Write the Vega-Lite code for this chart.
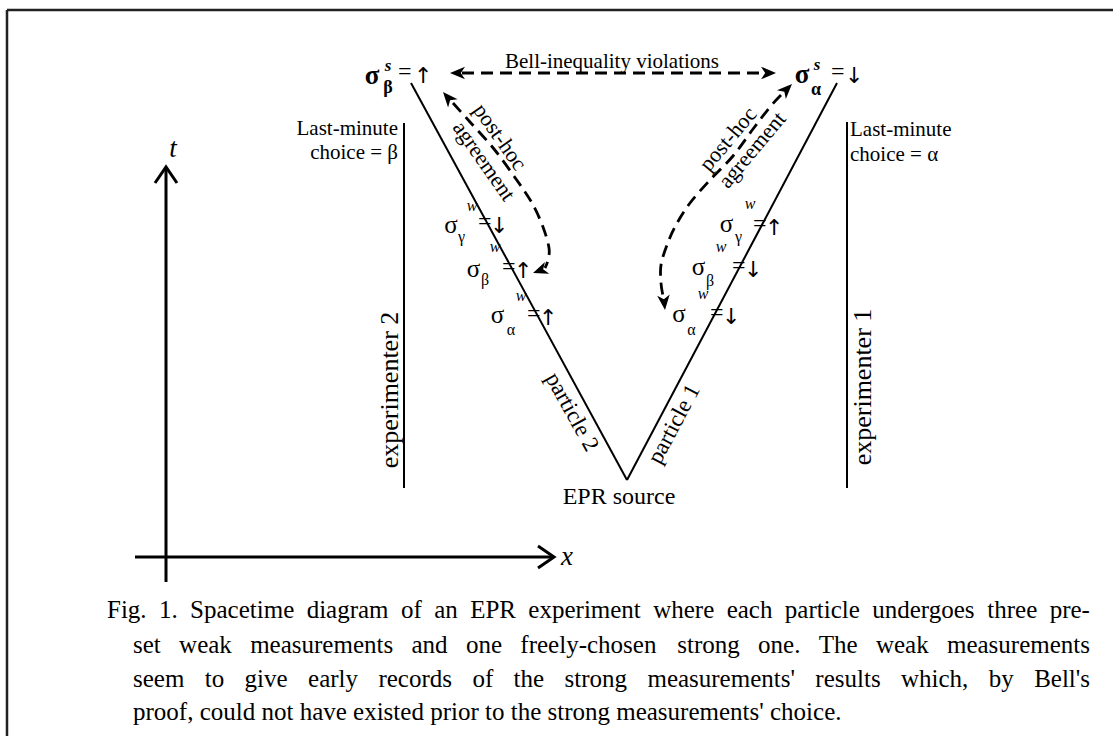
{
"$schema": "https://vega.github.io/schema/vega-lite/v6.json",
"width": 1113, "height": 736, "autosize": "none", "padding": 0, "background": "white",
"config": {"view": {"stroke": null}},
"datasets": {
"segs": [
{"x":411,"y":83,"x2":627,"y2":480,"k":"line"},
{"x":627,"y":480,"x2":837,"y2":83,"k":"line"},
{"x":404,"y":123,"x2":404,"y2":488,"k":"line"},
{"x":847,"y":122,"x2":847,"y2":488,"k":"line"},
{"x":166,"y":168,"x2":166,"y2":582,"k":"axis"},
{"x":135,"y":557,"x2":553,"y2":557,"k":"axis"},
{"x":7,"y":10,"x2":7,"y2":736,"k":"frame"},
{"x":7,"y":10,"x2":1113,"y2":10,"k":"frame"}
],
"paths": [
{"id":"tH","i":0,"x":155,"y":183,"k":"axhead"},{"id":"tH","i":1,"x":166,"y":167,"k":"axhead"},{"id":"tH","i":2,"x":177,"y":183,"k":"axhead"},
{"id":"xH","i":0,"x":538,"y":546,"k":"axhead"},{"id":"xH","i":1,"x":554,"y":557,"k":"axhead"},{"id":"xH","i":2,"x":538,"y":568,"k":"axhead"},
{"id":"bell","i":0,"x":462,"y":73,"k":"dash"},{"id":"bell","i":1,"x":764,"y":73,"k":"dash"},
{"id":"L","i":0,"x":453,"y":103,"k":"dash"},{"id":"L","i":1,"x":470,"y":122,"k":"dash"},{"id":"L","i":2,"x":494,"y":149,"k":"dash"},{"id":"L","i":3,"x":516,"y":179,"k":"dash"},{"id":"L","i":4,"x":532,"y":203,"k":"dash"},{"id":"L","i":5,"x":543,"y":227,"k":"dash"},{"id":"L","i":6,"x":549,"y":248,"k":"dash"},{"id":"L","i":7,"x":548,"y":260,"k":"dash"},{"id":"L","i":8,"x":545,"y":268,"k":"dash"},
{"id":"R","i":0,"x":781,"y":95,"k":"dash"},{"id":"R","i":1,"x":770,"y":107,"k":"dash"},{"id":"R","i":2,"x":753,"y":129,"k":"dash"},{"id":"R","i":3,"x":733,"y":156,"k":"dash"},{"id":"R","i":4,"x":710,"y":180,"k":"dash"},{"id":"R","i":5,"x":690,"y":203,"k":"dash"},{"id":"R","i":6,"x":676,"y":225,"k":"dash"},{"id":"R","i":7,"x":667,"y":245,"k":"dash"},{"id":"R","i":8,"x":661,"y":265,"k":"dash"},{"id":"R","i":9,"x":661,"y":283,"k":"dash"},{"id":"R","i":10,"x":663,"y":296,"k":"dash"}
],
"heads": [
{"x":450,"y":73,"a":180},{"x":776,"y":73,"a":0},
{"x":443,"y":92,"a":229},{"x":533,"y":273,"a":160},
{"x":792,"y":84,"a":315},{"x":665,"y":310,"a":84}
],
"labels": [
{"t":"σ","x":372,"y":84,"r":"sigB"},{"t":"β","x":388,"y":93,"r":"subB"},{"t":"s","x":388,"y":71,"r":"supB"},{"t":"=","x":398,"y":79,"r":"eq"},{"t":"↑","x":414,"y":83,"r":"arr"},
{"t":"σ","x":802,"y":83,"r":"sigB"},{"t":"α","x":816,"y":95,"r":"subB"},{"t":"s","x":817,"y":70,"r":"supB"},{"t":"=","x":831,"y":79,"r":"eq"},{"t":"↓","x":845,"y":83,"r":"arr"},
{"t":"Bell-inequality violations","x":612,"y":68,"r":"bell"},
{"t":"Last-minute","x":398,"y":135,"r":"lmR"},{"t":"choice = β","x":398,"y":159,"r":"lmR"},
{"t":"Last-minute","x":850,"y":136,"r":"lmL"},{"t":"choice = α","x":850,"y":161,"r":"lmL"},
{"t":"post-hoc","x":500,"y":137,"a":55,"r":"ph"},{"t":"agreement","x":484,"y":161,"a":55,"r":"ph"},
{"t":"post-hoc","x":728,"y":139,"a":-50,"r":"ph"},{"t":"agreement","x":752,"y":150,"a":-50,"r":"ph"},
{"t":"σ","x":451,"y":233,"r":"sig"},{"t":"σ","x":473.5,"y":277,"r":"sig"},{"t":"σ","x":497.5,"y":323,"r":"sig"},
{"t":"σ","x":726.5,"y":232,"r":"sig"},{"t":"σ","x":698.5,"y":275,"r":"sig"},{"t":"σ","x":679,"y":322,"r":"sig"},
{"t":"γ","x":461.5,"y":242,"r":"sub"},{"t":"β","x":485,"y":285,"r":"sub"},{"t":"α","x":511,"y":335,"r":"sub"},
{"t":"γ","x":738.5,"y":242,"r":"sub"},{"t":"β","x":710,"y":286,"r":"sub"},{"t":"α","x":691.5,"y":335,"r":"sub"},
{"t":"w","x":472,"y":211,"r":"sup"},{"t":"w","x":495,"y":252,"r":"sup"},{"t":"w","x":521,"y":301,"r":"sup"},
{"t":"w","x":750,"y":209,"r":"sup"},{"t":"w","x":721,"y":252,"r":"sup"},{"t":"w","x":703,"y":299,"r":"sup"},
{"t":"=","x":478,"y":229,"r":"eq"},{"t":"=","x":502,"y":274,"r":"eq"},{"t":"=","x":527,"y":321,"r":"eq"},
{"t":"↓","x":490,"y":233,"r":"arr"},{"t":"↑","x":514,"y":278,"r":"arr"},{"t":"↑","x":539,"y":325,"r":"arr"},
{"t":"=","x":753,"y":231,"r":"eq"},{"t":"=","x":732,"y":273,"r":"eq"},{"t":"=","x":710,"y":320,"r":"eq"},
{"t":"↑","x":765,"y":235,"r":"arr"},{"t":"↓","x":744,"y":277,"r":"arr"},{"t":"↓","x":722,"y":324,"r":"arr"},
{"t":"particle 2","x":572,"y":412,"a":61,"r":"part"},{"t":"particle 1","x":674,"y":424,"a":-62,"r":"part"},
{"t":"experimenter 2","x":390,"y":390,"a":-90,"r":"exp"},{"t":"experimenter 1","x":863,"y":387,"a":-90,"r":"exp"},
{"t":"EPR source","x":619,"y":504,"r":"epr"},
{"t":"t","x":173,"y":157,"r":"ax"},{"t":"x","x":567,"y":565,"r":"ax"},
{"t":"Fig.","x":107,"y":618,"r":"cap"},{"t":"1.","x":158.98,"y":618,"r":"cap"},{"t":"Spacetime","x":190.11,"y":618,"r":"cap"},{"t":"diagram","x":306.64,"y":618,"r":"cap"},{"t":"of","x":400.95,"y":618,"r":"cap"},{"t":"an","x":434.15,"y":618,"r":"cap"},{"t":"EPR","x":470.13,"y":618,"r":"cap"},{"t":"experiment","x":528.36,"y":618,"r":"cap"},{"t":"where","x":653.22,"y":618,"r":"cap"},{"t":"each","x":726.67,"y":618,"r":"cap"},{"t":"particle","x":784.85,"y":618,"r":"cap"},{"t":"undergoes","x":872.2,"y":618,"r":"cap"},{"t":"three","x":987.33,"y":618,"r":"cap"},{"t":"pre-","x":1049.69,"y":618,"r":"cap"},
{"t":"set","x":133,"y":653,"r":"cap"},{"t":"weak","x":179.1,"y":653,"r":"cap"},{"t":"measurements","x":250.17,"y":653,"r":"cap"},{"t":"and","x":411.51,"y":653,"r":"cap"},{"t":"one","x":465.93,"y":653,"r":"cap"},{"t":"freely-chosen","x":520.35,"y":653,"r":"cap"},{"t":"strong","x":677.22,"y":653,"r":"cap"},{"t":"one.","x":758.04,"y":653,"r":"cap"},{"t":"The","x":818.71,"y":653,"r":"cap"},{"t":"weak","x":875.9,"y":653,"r":"cap"},{"t":"measurements","x":946.97,"y":653,"r":"cap"},
{"t":"seem","x":133,"y":687,"r":"cap"},{"t":"to","x":204.77,"y":687,"r":"cap"},{"t":"give","x":244.61,"y":687,"r":"cap"},{"t":"early","x":308.05,"y":687,"r":"cap"},{"t":"records","x":378.42,"y":687,"r":"cap"},{"t":"of","x":472.38,"y":687,"r":"cap"},{"t":"the","x":513.6,"y":687,"r":"cap"},{"t":"strong","x":564.54,"y":687,"r":"cap"},{"t":"measurements'","x":647.43,"y":687,"r":"cap"},{"t":"results","x":815.35,"y":687,"r":"cap"},{"t":"which,","x":901.01,"y":687,"r":"cap"},{"t":"by","x":988.75,"y":687,"r":"cap"},{"t":"Bell's","x":1034.14,"y":687,"r":"cap"},
{"t":"proof, could not have existed prior to the strong measurements' choice.","x":133,"y":720,"r":"cap"}
]
},
"encoding": {
"x": {"field":"x","type":"quantitative","scale":{"domain":[0,1113],"nice":false,"zero":false},"axis":null},
"y": {"field":"y","type":"quantitative","scale":{"domain":[0,736],"nice":false,"zero":false,"reverse":true},"axis":null}
},
"layer": [
{"data":{"name":"segs"},"transform":[{"filter":"datum.k==='line'"}],"mark":{"type":"rule","color":"black","strokeWidth":2},"encoding":{"x2":{"field":"x2"},"y2":{"field":"y2"}}},
{"data":{"name":"segs"},"transform":[{"filter":"datum.k==='axis'"}],"mark":{"type":"rule","color":"black","strokeWidth":3},"encoding":{"x2":{"field":"x2"},"y2":{"field":"y2"}}},
{"data":{"name":"segs"},"transform":[{"filter":"datum.k==='frame'"}],"mark":{"type":"rule","color":"#222","strokeWidth":2.5},"encoding":{"x2":{"field":"x2"},"y2":{"field":"y2"}}},
{"data":{"name":"paths"},"transform":[{"filter":"datum.k==='axhead'"}],"mark":{"type":"line","color":"black","strokeWidth":3,"strokeJoin":"miter"},"encoding":{"detail":{"field":"id"},"order":{"field":"i"}}},
{"data":{"name":"paths"},"transform":[{"filter":"datum.k==='dash'"}],"mark":{"type":"line","color":"black","strokeWidth":2.8,"strokeDash":[12,7],"interpolate":"cardinal"},"encoding":{"detail":{"field":"id"},"order":{"field":"i"}}},
{"data":{"name":"heads"},"mark":{"type":"point","shape":"M0,0 L-1,-0.42 L-0.72,0 L-1,0.42 Z","size":900,"filled":true,"color":"black","opacity":1,"strokeWidth":0},"encoding":{"angle":{"field":"a","type":"quantitative","scale":null}}},
{"data":{"name":"labels"},"transform":[{"filter":"datum.r==='sigB'"}],"mark":{"type":"text","font":"Liberation Serif","fontSize":27,"fontWeight":"bold","align":"center","baseline":"alphabetic","color":"black"},"encoding":{"text":{"field":"t"}}},
{"data":{"name":"labels"},"transform":[{"filter":"datum.r==='subB'"}],"mark":{"type":"text","font":"Liberation Serif","fontSize":18,"fontWeight":"bold","align":"center","baseline":"alphabetic","color":"black"},"encoding":{"text":{"field":"t"}}},
{"data":{"name":"labels"},"transform":[{"filter":"datum.r==='supB'"}],"mark":{"type":"text","font":"Liberation Serif","fontSize":17,"fontWeight":"bold","fontStyle":"italic","align":"center","baseline":"alphabetic","color":"black"},"encoding":{"text":{"field":"t"}}},
{"data":{"name":"labels"},"transform":[{"filter":"datum.r==='eq'"}],"mark":{"type":"text","font":"Liberation Serif","fontSize":24,"align":"left","baseline":"alphabetic","color":"black"},"encoding":{"text":{"field":"t"}}},
{"data":{"name":"labels"},"transform":[{"filter":"datum.r==='arr'"}],"mark":{"type":"text","font":"DejaVu Sans","fontSize":22,"align":"left","baseline":"alphabetic","color":"black"},"encoding":{"text":{"field":"t"}}},
{"data":{"name":"labels"},"transform":[{"filter":"datum.r==='sig'"}],"mark":{"type":"text","font":"Liberation Serif","fontSize":25,"align":"center","baseline":"alphabetic","color":"black"},"encoding":{"text":{"field":"t"}}},
{"data":{"name":"labels"},"transform":[{"filter":"datum.r==='sub'"}],"mark":{"type":"text","font":"Liberation Serif","fontSize":16,"align":"center","baseline":"alphabetic","color":"black"},"encoding":{"text":{"field":"t"}}},
{"data":{"name":"labels"},"transform":[{"filter":"datum.r==='sup'"}],"mark":{"type":"text","font":"Liberation Serif","fontSize":16,"fontStyle":"italic","align":"center","baseline":"alphabetic","color":"black"},"encoding":{"text":{"field":"t"}}},
{"data":{"name":"labels"},"transform":[{"filter":"datum.r==='bell'"}],"mark":{"type":"text","font":"Liberation Serif","fontSize":21,"align":"center","baseline":"alphabetic","color":"black"},"encoding":{"text":{"field":"t"}}},
{"data":{"name":"labels"},"transform":[{"filter":"datum.r==='lmR'"}],"mark":{"type":"text","font":"Liberation Serif","fontSize":21,"align":"right","baseline":"alphabetic","color":"black"},"encoding":{"text":{"field":"t"}}},
{"data":{"name":"labels"},"transform":[{"filter":"datum.r==='lmL'"}],"mark":{"type":"text","font":"Liberation Serif","fontSize":21,"align":"left","baseline":"alphabetic","color":"black"},"encoding":{"text":{"field":"t"}}},
{"data":{"name":"labels"},"transform":[{"filter":"datum.r==='ph'"}],"mark":{"type":"text","font":"Liberation Serif","fontSize":22,"align":"center","baseline":"middle","color":"black"},"encoding":{"text":{"field":"t"},"angle":{"field":"a","type":"quantitative","scale":null}}},
{"data":{"name":"labels"},"transform":[{"filter":"datum.r==='part'"}],"mark":{"type":"text","font":"Liberation Serif","fontSize":23,"align":"center","baseline":"middle","color":"black"},"encoding":{"text":{"field":"t"},"angle":{"field":"a","type":"quantitative","scale":null}}},
{"data":{"name":"labels"},"transform":[{"filter":"datum.r==='exp'"}],"mark":{"type":"text","font":"Liberation Serif","fontSize":26,"align":"center","baseline":"middle","color":"black"},"encoding":{"text":{"field":"t"},"angle":{"field":"a","type":"quantitative","scale":null}}},
{"data":{"name":"labels"},"transform":[{"filter":"datum.r==='epr'"}],"mark":{"type":"text","font":"Liberation Serif","fontSize":24,"align":"center","baseline":"alphabetic","color":"black"},"encoding":{"text":{"field":"t"}}},
{"data":{"name":"labels"},"transform":[{"filter":"datum.r==='ax'"}],"mark":{"type":"text","font":"Liberation Serif","fontSize":27,"fontStyle":"italic","align":"center","baseline":"alphabetic","color":"black"},"encoding":{"text":{"field":"t"}}},
{"data":{"name":"labels"},"transform":[{"filter":"datum.r==='cap'"}],"mark":{"type":"text","font":"Liberation Serif","fontSize":25,"align":"left","baseline":"alphabetic","color":"black"},"encoding":{"text":{"field":"t"}}}
]
}
